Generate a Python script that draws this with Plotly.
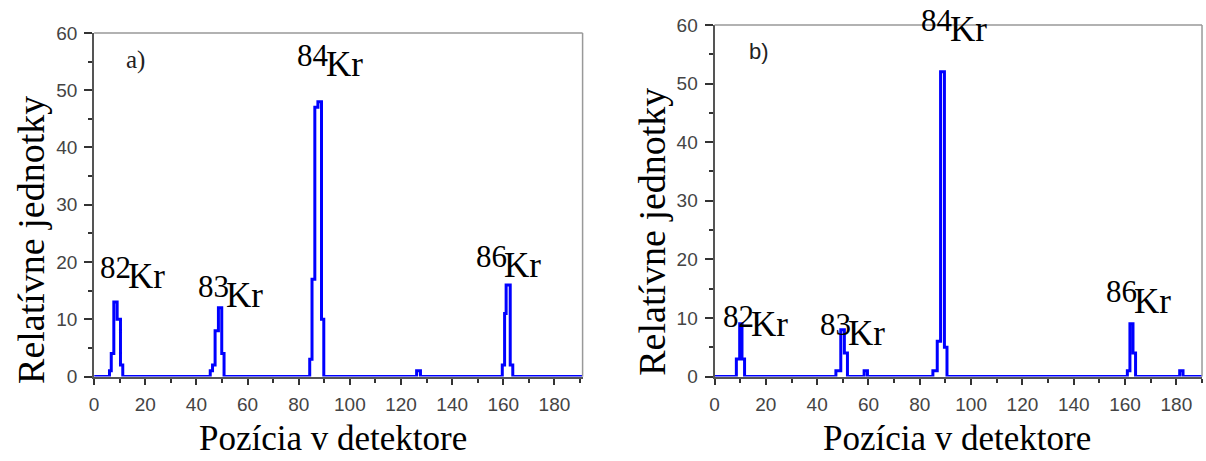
import plotly.graph_objects as go

W, H = 1206, 461

# ---- data: step-start positions and relative counts (panel a) ----
pos_a = [0, 6.0, 6.7, 7.7, 9.0, 10.3, 11.2,
         45.4, 46.3, 47.3, 48.6, 49.9, 50.8,
         84.3, 85.2, 86.3, 87.5, 88.9, 89.8,
         126.1, 127.6,
         159.6, 160.5, 161.1, 162.7, 163.7, 191]
cnt_a = [0, 1, 4, 13, 10, 2, 0,
         1, 2, 8, 12, 4, 0,
         3, 17, 47, 48, 10, 0,
         1, 0,
         2, 11, 16, 2, 0, 0]

# ---- data: panel b ----
pos_b = [0, 8.5, 9.8, 10.7, 11.7,
         47.3, 49.2, 50.6, 51.8,
         58.3, 59.6,
         85.1, 86.8, 88.1, 89.6, 90.6,
         160.9, 161.9, 163.1, 164.1,
         181.3, 182.6, 190]
cnt_b = [0, 3, 9, 3, 0,
         1, 8, 4, 0,
         1, 0,
         1, 6, 52, 5, 0,
         1, 9, 4, 0,
         1, 0, 0]

isotopes = ["82", "83", "84", "86"]
element = "Kr"
x_ticks = [0, 20, 40, 60, 80, 100, 120, 140, 160, 180]
y_ticks = [0, 10, 20, 30, 40, 50, 60]
x_title = "Pozícia v detektore"
y_title = "Relatívne jednotky"
panel_labels = ["a)", "b)"]

BLUE = "#0000ff"
fig = go.Figure()
fig.add_trace(go.Scatter(x=pos_a, y=cnt_a, mode="lines",
                         line=dict(shape="hv", color=BLUE, width=3),
                         xaxis="x", yaxis="y", showlegend=False))
fig.add_trace(go.Scatter(x=pos_b, y=cnt_b, mode="lines",
                         line=dict(shape="hv", color=BLUE, width=3),
                         xaxis="x2", yaxis="y2", showlegend=False))


def ax(rng, dom, anchor, tickvals, minor_dtick, ticklen, standoff):
    return dict(range=rng, domain=dom, anchor=anchor,
                showline=True, linecolor="#555", linewidth=2,
                ticks="outside", ticklen=ticklen, tickwidth=1.5, tickcolor="#333",
                tickvals=tickvals, ticktext=[str(v) for v in tickvals],
                ticklabelstandoff=standoff,
                tickfont=dict(family="Liberation Sans, Arial", size=19, color="#444"),
                showgrid=False, zeroline=False,
                minor=dict(dtick=minor_dtick, tick0=0, ticks="outside", ticklen=4,
                           tickwidth=1.5, tickcolor="#333", showgrid=False))


def px(x):
    return x / W


def py(y):
    return 1 - y / H


fig.update_layout(
    width=W, height=H, margin=dict(l=0, r=0, t=0, b=0),
    paper_bgcolor="white", plot_bgcolor="white",
    xaxis=ax([0, 191], [px(89.5), px(580)], "y", x_ticks, 10, 6, 4),
    yaxis=ax([0, 60], [py(384), py(24)], "x", y_ticks, 5, 8, 3),
    xaxis2=ax([0, 190], [px(712.5), px(1202)], "y2", x_ticks, 10, 6, 4),
    yaxis2=ax([0, 60], [py(384), py(15.7)], "x2", y_ticks, 5, 8, 3),
)

# gray top/right frame lines
for xr, yr in (("x domain", "y domain"), ("x2 domain", "y2 domain")):
    fig.add_shape(type="line", xref=xr, yref=yr, x0=0, x1=1, y0=1, y1=1,
                  line=dict(color="#999", width=1.5))
    fig.add_shape(type="line", xref=xr, yref=yr, x0=1, x1=1, y0=0, y1=1,
                  line=dict(color="#999", width=1.5))

SERIF = "Liberation Serif, Times New Roman, serif"
ann = []
# isotope labels (pixel layout): number right edge, number centre y, Kr centre y
lab_a = [(128, 270, 279), (226, 290, 299), (326, 48, 57), (505, 258, 268)]
lab_b = [(753, 321, 330), (851, 330, 339), (953, 11, 20), (1138, 295, 305)]
for labs in (lab_a, lab_b):
    for iso, (xr, yn, yk) in zip(isotopes, labs):
        ann.append(dict(text=iso, x=px(xr + 1), y=py(yn), xref="paper", yref="paper",
                        xanchor="right", yanchor="middle", showarrow=False,
                        font=dict(family=SERIF, size=31, color="black")))
        ann.append(dict(text=element, x=px(xr - 6), y=py(yk), xref="paper", yref="paper",
                        xanchor="left", yanchor="middle", showarrow=False,
                        font=dict(family=SERIF, size=35, color="black")))

ann.append(dict(text=panel_labels[0], x=px(119), y=py(52), xref="paper", yref="paper",
                xanchor="left", yanchor="middle", showarrow=False,
                font=dict(family=SERIF, size=25, color="#222")))
ann.append(dict(text=panel_labels[1], x=px(745), y=py(44), xref="paper", yref="paper",
                xanchor="left", yanchor="middle", showarrow=False,
                font=dict(family="Liberation Sans, Arial", size=22, color="#222")))

for cx in (329, 956):
    ann.append(dict(text=x_title, x=px(cx), y=py(449), xref="paper", yref="paper",
                    xanchor="center", yanchor="middle", showarrow=False,
                    font=dict(family=SERIF, size=35, color="black")))
for cx, cy in ((26, 241), (650, 232)):
    ann.append(dict(text=y_title, x=px(cx), y=py(cy), xref="paper", yref="paper",
                    xanchor="center", yanchor="middle", showarrow=False, textangle=-90,
                    font=dict(family=SERIF, size=38, color="black")))

fig.update_layout(annotations=ann)
fig.write_html("out.html")
